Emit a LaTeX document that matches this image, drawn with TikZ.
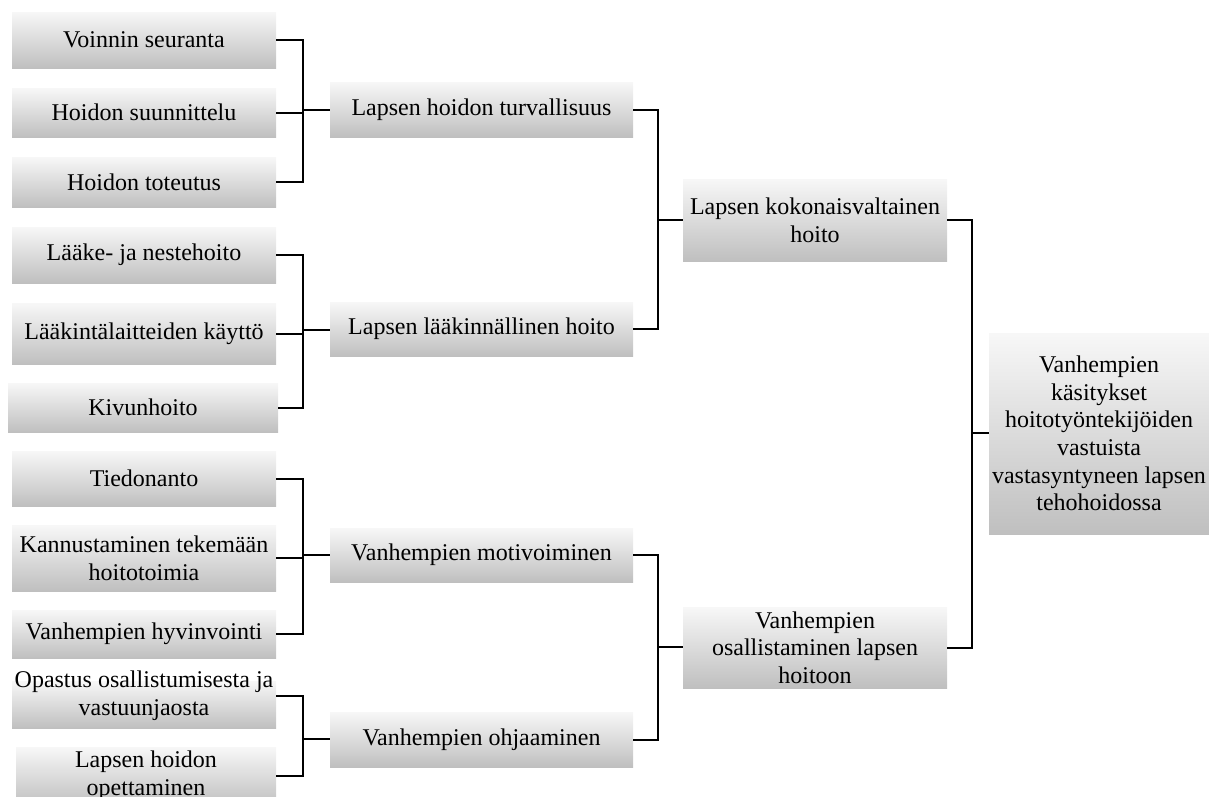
\documentclass[tikz,border=0pt]{standalone}
\usepackage{fontspec}
\setmainfont{Liberation Serif}
\newfontfamily\catfont{Liberation Serif}
\usetikzlibrary{calc}
\tikzset{
    catbox/.style={
        draw=none,
        top color=black!3,
        bottom color=black!25,
        inner sep=0pt,
        align=center,
        font=\catfont\fontsize{24}{27.6}\selectfont
    },
    boxlabel/.style={
        inner sep=0pt,
        align=center,
        font=\catfont\fontsize{24}{27.6}\selectfont
    },
    link/.style={line width=2pt, black}
}
% name, left, top, right, bottom, text
\newcommand{\CatBox}[6]{%
\node[catbox, minimum width={#4-#2}, minimum height={#5-#3}]
    (#1) at ({(#2+#4)/2},{(#3+#5)/2}) {#6};
}

\begin{document}
\begin{tikzpicture}[x=1pt,y=-1pt]
    \useasboundingbox (0,0) rectangle (1209,796);

    % first level
    \CatBox{vs}{12}{12}{276}{68}{Voinnin seuranta}
    \CatBox{hs}{12}{88}{276}{137}{Hoidon suunnittelu}
    \CatBox{ht}{12}{157}{276}{207}{Hoidon toteutus}
    \CatBox{ln}{12}{227}{276}{283}{Lääke- ja nestehoito}
    \CatBox{lk}{12}{303}{276}{364}{Lääkintälaitteiden käyttö}
    \CatBox{kh}{8}{383}{278}{432}{Kivunhoito}
    \CatBox{ti}{12}{451}{276}{506}{Tiedonanto}
    \CatBox{ka}{12}{525}{276}{591}{Kannustaminen tekemään\\hoitotoimia}
    \CatBox{vh}{12}{610}{276}{658}{Vanhempien hyvinvointi}
    \CatBox{op}{12}{681}{276}{728}{}
    \node[boxlabel] (opt) at (144,696) {Opastus osallistumisesta ja\\vastuunjaosta};
    \CatBox{lo}{16}{747}{276}{806}{}
    \node[boxlabel] (lot) at (146,776) {Lapsen hoidon\\opettaminen};

    % second level
    \CatBox{lht}{330}{82}{633}{137}{Lapsen hoidon turvallisuus}
    \CatBox{llh}{330}{302}{633}{356}{Lapsen lääkinnällinen hoito}
    \CatBox{vm}{330}{528}{633}{582}{Vanhempien motivoiminen}
    \CatBox{vo}{330}{712}{633}{767}{Vanhempien ohjaaminen}

    % third level
    \CatBox{lkh}{683}{179}{947}{261}{Lapsen kokonaisvaltainen\\hoito}
    \CatBox{voh}{683}{607}{947}{688}{Vanhempien\\osallistaminen lapsen\\hoitoon}

    % main category
    \CatBox{main}{989}{333}{1209}{534}{Vanhempien\\käsitykset\\hoitotyöntekijöiden\\vastuista\\vastasyntyneen lapsen\\tehohoidossa}

    % junctions
    \coordinate (j1) at (303,110);
    \coordinate (j2) at (303,330);
    \coordinate (j3) at (303,555);
    \coordinate (j4) at (303,739);
    \coordinate (j5) at (658,220);
    \coordinate (j6) at (658,647);
    \coordinate (j7) at (972,433);

    \foreach \a in {vs,hs,ht} \draw[link] (\a.east) -| (j1);
    \draw[link] (j1) -- (lht.west|-j1);
    \foreach \a in {ln,lk,kh} \draw[link] (\a.east) -| (j2);
    \draw[link] (j2) -- (llh.west|-j2);
    \foreach \a in {ti,ka,vh} \draw[link] (\a.east) -| (j3);
    \draw[link] (j3) -- (vm.west|-j3);
    \draw[link] (op.east|-opt) -| (j4);
    \draw[link] (lo.east|-lot) -| (j4);
    \draw[link] (j4) -- (vo.west|-j4);

    \foreach \a in {lht,llh} \draw[link] (\a.east) -| (j5);
    \draw[link] (j5) -- (lkh.west);
    \foreach \a in {vm,vo} \draw[link] (\a.east) -| (j6);
    \draw[link] (j6) -- (voh.west|-j6);

    \foreach \a in {lkh,voh} \draw[link] (\a.east) -| (j7);
    \draw[link] (j7) -- (main.west|-j7);
\end{tikzpicture}
\end{document}
